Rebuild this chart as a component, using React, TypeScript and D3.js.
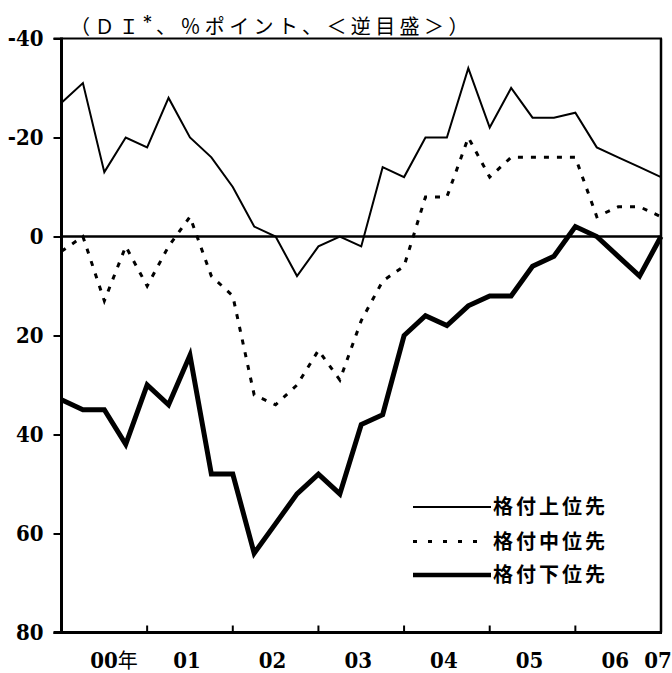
import React, { useEffect, useRef } from 'react';
import * as d3 from 'd3';

// quarterly DI, 2000 Q1 .. 2007 Q1 (values as read on the reversed scale)
const upperDI = [-27, -31, -13, -20, -18, -28, -20, -16, -10, -2, 0, 8, 2, 0, 2, -14, -12, -20, -20, -34, -22, -30, -24, -24, -25, -18, -16, -14, -12];
const middleDI = [3, 0, 13, 2, 10, 2, -4, 8, 12, 32, 34, 30, 23, 29, 17, 9, 6, -8, -8, -20, -12, -16, -16, -16, -16, -4, -6, -6, -4];
const lowerDI = [33, 35, 35, 42, 30, 34, 24, 48, 48, 64, 58, 52, 48, 52, 38, 36, 20, 16, 18, 14, 12, 12, 6, 4, -2, 0, 4, 8, 0];

const yTicks = [-40, -20, 0, 20, 40, 60, 80];
const yearTicks = [4, 8, 12, 16, 20, 24];
const yearLabels = ['00年', '01', '02', '03', '04', '05', '06', '07'];
const yearLabelPos = [2, 6, 10, 14, 18, 22, 26, 28];

const seriesNames = ['格付上位先', '格付中位先', '格付下位先'];
const titleParts = ['（ＤＩ', '*', '、％ポイント、＜逆目盛＞）'];

const W = 672;
const H = 673;
const serif = 'DejaVu Serif, serif';
const gothic = 'Noto Sans CJK JP, sans-serif';

export default function App() {
  const svgRef = useRef<SVGSVGElement | null>(null);

  useEffect(() => {
    const svg = d3.select(svgRef.current);
    svg.selectAll('*').remove();

    const left = 61.5, right = 661, top = 38.5, bottom = 632.5;

    const x = d3.scaleLinear().domain([0, upperDI.length - 1]).range([left, right]);
    const y = d3.scaleLinear().domain([-40, 80]).range([top, bottom]);

    const g = svg.append('g');

    // zero line
    g.append('line')
      .attr('x1', left).attr('x2', right)
      .attr('y1', y(0)).attr('y2', y(0))
      .attr('stroke', '#000').attr('stroke-width', 2.5);

    const line = d3.line<number>()
      .x((_, i) => x(i))
      .y(d => y(d));

    const styles = [
      { data: upperDI, width: 2, dash: null },
      { data: middleDI, width: 3, dash: '5 8' },
      { data: lowerDI, width: 5, dash: null },
    ];

    styles.forEach(s => {
      g.append('path')
        .datum(s.data)
        .attr('fill', 'none')
        .attr('stroke', '#000')
        .attr('stroke-width', s.width)
        .attr('stroke-dasharray', s.dash)
        .attr('d', line);
    });

    // frame
    g.append('line').attr('x1', left - 8).attr('x2', right + 1).attr('y1', top).attr('y2', top)
      .attr('stroke', '#000').attr('stroke-width', 2);
    g.append('line').attr('x1', right).attr('x2', right).attr('y1', top).attr('y2', bottom)
      .attr('stroke', '#000').attr('stroke-width', 2.5);
    g.append('line').attr('x1', left).attr('x2', left).attr('y1', top - 1).attr('y2', bottom + 1.5)
      .attr('stroke', '#000').attr('stroke-width', 3);
    g.append('line').attr('x1', left - 8).attr('x2', right + 1).attr('y1', bottom).attr('y2', bottom)
      .attr('stroke', '#000').attr('stroke-width', 3);

    // y axis
    const yAxis = d3.axisLeft(y)
      .tickValues(yTicks)
      .tickSize(8)
      .tickPadding(10)
      .tickFormat(d => (Number(d) < 0 ? `-${Math.abs(Number(d))}` : `${d}`));
    const ya = g.append('g').attr('transform', `translate(${left},0)`).call(yAxis);
    ya.attr('font-family', serif).attr('font-size', 22);
    ya.select('.domain').remove();
    ya.selectAll('.tick line').attr('stroke', '#000').attr('stroke-width', 2);
    ya.selectAll('.tick text')
      .attr('fill', '#000')
      .attr('font-family', serif)
      .attr('font-weight', 'bold')
      .attr('font-size', 22)
      .style('font-stretch', 'condensed');

    // year ticks, pointing inward
    g.append('g').selectAll('line')
      .data(yearTicks)
      .enter()
      .append('line')
      .attr('x1', d => x(d)).attr('x2', d => x(d))
      .attr('y1', bottom).attr('y2', bottom - 7)
      .attr('stroke', '#000').attr('stroke-width', 2);

    const xl = g.append('g').selectAll('text')
      .data(yearLabels)
      .enter()
      .append('text')
      .attr('x', (d, i) => (i === 0 ? x(yearLabelPos[i]) - 14 : x(yearLabelPos[i]) - 3))
      .attr('y', 668)
      .attr('text-anchor', (d, i) => (i === 0 ? 'start' : 'middle'))
      .attr('font-family', serif)
      .attr('font-weight', 'bold')
      .attr('font-size', 22)
      .style('font-stretch', 'condensed');
    xl.each(function (d) {
      const t = d3.select(this);
      const m = d.match(/^(\d+)(.*)$/);
      t.append('tspan').text(m ? m[1] : d);
      if (m && m[2]) t.append('tspan').attr('font-family', gothic).attr('font-weight', 'normal').attr('font-size', 20).text(m[2]);
    });

    // title
    const tt = g.append('text')
      .attr('x', 70)
      .attr('y', 34)
      .attr('font-family', gothic)
      .attr('font-size', 20)
      .style('letter-spacing', '4.4px');
    tt.append('tspan').text(titleParts[0]);
    tt.append('tspan').attr('font-family', serif).attr('font-weight', 'bold').attr('font-size', 16).attr('dy', -7).text(titleParts[1]);
    tt.append('tspan').attr('dy', 7).text(titleParts[2]);

    // legend
    const legendY = [507, 541.5, 575];
    const lg = g.append('g');
    styles.forEach((s, i) => {
      lg.append('line')
        .attr('x1', 413).attr('x2', i === 1 ? 478 : 491)
        .attr('y1', legendY[i]).attr('y2', legendY[i])
        .attr('stroke', '#000')
        .attr('stroke-width', i === 2 ? 4.5 : s.width)
        .attr('stroke-dasharray', i === 1 ? '4 11' : null);
      lg.append('text')
        .attr('x', 493)
        .attr('y', legendY[i])
        .attr('dy', '0.36em')
        .attr('font-family', gothic)
        .attr('font-weight', 'bold')
        .attr('font-size', 20)
        .style('letter-spacing', '3px')
        .text(seriesNames[i]);
    });
  }, []);

  return (
    <svg ref={svgRef} width={W} height={H} style={{ position: 'absolute', left: 0, top: 0, background: '#fff' }} />
  );
}
